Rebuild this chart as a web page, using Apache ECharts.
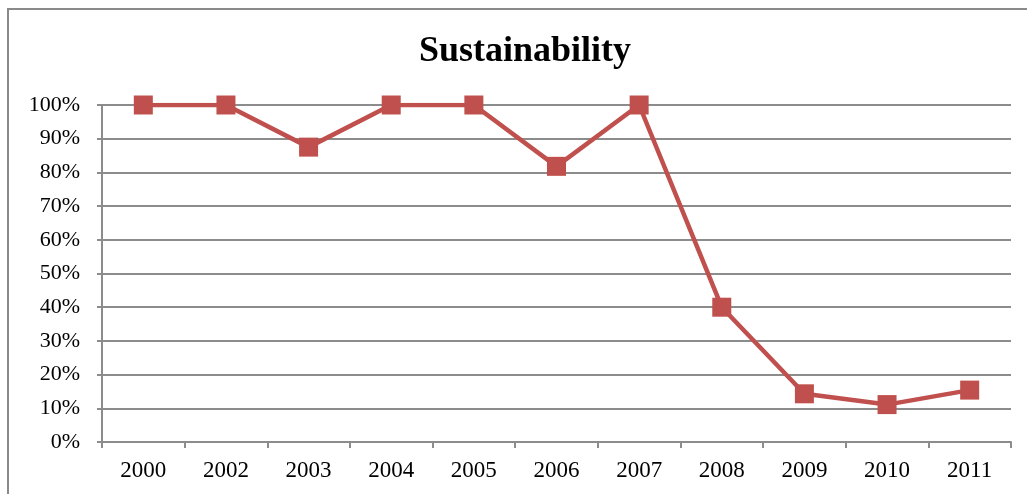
<!DOCTYPE html>
<html>
<head>
<meta charset="utf-8">
<script src="https://cdn.jsdelivr.net/npm/echarts@6/dist/echarts.min.js"></script>
<style>
  html, body { margin: 0; padding: 0; background: #fff; }
  #chart { width: 1027px; height: 494px; }
</style>
</head>
<body>
<div id="chart"></div>
<script>
// Share of sustained cases per year
const years = ['2000', '2002', '2003', '2004', '2005', '2006', '2007', '2008', '2009', '2010', '2011'];
const sustainability = [1.0, 1.0, 0.875, 1.0, 1.0, 0.818, 1.0, 0.40, 0.143, 0.111, 0.154];
const yTicks = [0, 0.1, 0.2, 0.3, 0.4, 0.5, 0.6, 0.7, 0.8, 0.9, 1.0];

const serif = '"Liberation Serif", "Times New Roman", serif';
const gridGray = '#8c8c8c';
const red = '#C0504D';

const chart = echarts.init(document.getElementById('chart'));
chart.setOption({
  animation: false,
  backgroundColor: '#fff',
  graphic: [{
    type: 'rect',
    shape: { x: 8, y: 9, width: 1030, height: 500 },
    style: { fill: 'none', stroke: '#8a8a8a', lineWidth: 2 },
    silent: true
  }],
  title: {
    text: 'Sustainability',
    left: 414,
    top: 29,
    textStyle: { fontFamily: serif, fontWeight: 'bold', fontSize: 36, color: '#000' }
  },
  grid: { left: 102, right: 16, top: 105, bottom: 52 },
  xAxis: {
    type: 'category',
    data: years,
    boundaryGap: true,
    axisLine: { lineStyle: { color: gridGray, width: 2 } },
    axisTick: { show: true, length: 6, lineStyle: { color: gridGray, width: 2 } },
    axisLabel: { fontFamily: serif, fontSize: 23, color: '#000', margin: 17 },
    splitLine: { show: false }
  },
  yAxis: {
    type: 'value',
    min: 0,
    max: 1,
    interval: 0.1,
    axisLine: { show: true, lineStyle: { color: gridGray, width: 2 } },
    axisTick: { show: true, length: 5, lineStyle: { color: gridGray, width: 2 } },
    axisLabel: {
      fontFamily: serif, fontSize: 22, color: '#000', margin: 22,
      formatter: v => {
        const t = yTicks.find(k => Math.abs(k - v) < 1e-6);
        return t === undefined ? '' : Math.round(t * 100) + '%';
      }
    },
    splitLine: { show: true, lineStyle: { color: gridGray, width: 2 } }
  },
  series: [{
    type: 'line',
    data: sustainability,
    symbol: 'rect',
    symbolSize: 19,
    lineStyle: { color: red, width: 4.5 },
    itemStyle: { color: red },
    z: 5
  }]
});
</script>
</body>
</html>
